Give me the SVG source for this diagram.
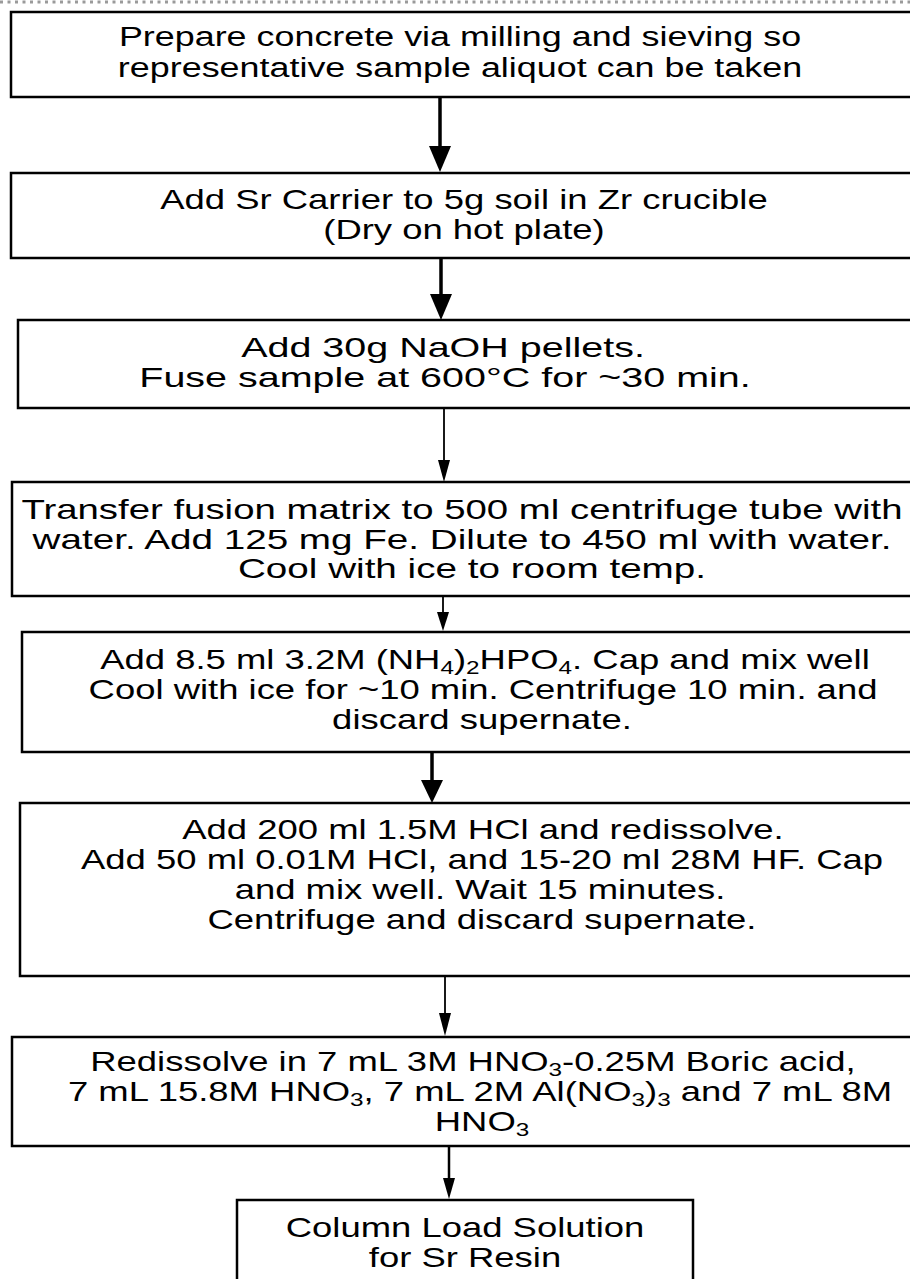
<svg xmlns="http://www.w3.org/2000/svg" width="910" height="1279" viewBox="0 0 910 1279">
<style>
.box{fill:#fff;stroke:#000;stroke-width:2.5}
.t{font-family:"Liberation Sans",Arial,sans-serif;font-size:27px;fill:#000;text-anchor:middle}
.b{font-size:28px}
.s{font-size:18px}
.thick{stroke:#000;stroke-width:3.5;fill:none}
.thin{stroke:#000;stroke-width:1.8;fill:none}
.mid{stroke:#000;stroke-width:2.5;fill:none}
.head{fill:#000}
</style>
<rect width="910" height="1279" fill="#fff"/>
<line x1="0" y1="2" x2="910" y2="2" stroke="#9a9a9a" stroke-width="3" stroke-dasharray="3 4.5"/>

<g id="connectors">
<line class="thick" x1="440" y1="97" x2="440" y2="148"/>
<polygon class="head" points="429,146 451,146 440,172"/>
<line class="thick" x1="441" y1="258" x2="441" y2="296"/>
<polygon class="head" points="430,294 452,294 441,320"/>
<line class="thin" x1="444" y1="408" x2="444" y2="462"/>
<polygon class="head" points="438,460 450,460 444,482"/>
<line class="thin" x1="443" y1="596" x2="443" y2="614"/>
<polygon class="head" points="437,612 449,612 443,631"/>
<line class="thick" x1="432" y1="752" x2="432" y2="782"/>
<polygon class="head" points="421,780 443,780 432,803"/>
<line class="thin" x1="445" y1="976" x2="445" y2="1015"/>
<polygon class="head" points="439,1013 451,1013 445,1036"/>
<line class="mid" x1="449" y1="1146" x2="449" y2="1180"/>
<polygon class="head" points="443,1178 455,1178 449,1199"/>
</g>

<g id="n1">
<rect class="box" x="11" y="12" width="920" height="85"/>
<text class="t" transform="translate(460,0) scale(1.33,1)" y="46">Prepare concrete via milling and sieving so</text>
<text class="t" transform="translate(460,0) scale(1.33,1)" y="77">representative sample aliquot can be taken</text>
</g>

<g id="n2">
<rect class="box" x="11" y="173" width="920" height="85"/>
<text class="t" transform="translate(464,0) scale(1.35,1)" y="209">Add Sr Carrier to 5g soil in Zr crucible</text>
<text class="t" transform="translate(464,0) scale(1.35,1)" y="239">(Dry on hot plate)</text>
</g>

<g id="n3">
<rect class="box" x="18" y="320" width="920" height="88"/>
<text class="t b" transform="translate(443,0) scale(1.41,1)" y="357">Add 30g NaOH pellets.</text>
<text class="t b" transform="translate(445,0) scale(1.41,1)" y="387">Fuse sample at 600°C for ~30 min.</text>
</g>

<g id="n4">
<rect class="box" x="12" y="482" width="920" height="114"/>
<text class="t b" transform="translate(462,0) scale(1.37,1)" y="519">Transfer fusion matrix to 500 ml centrifuge tube with</text>
<text class="t b" transform="translate(462,0) scale(1.38,1)" y="549">water. Add 125 mg Fe. Dilute to 450 ml with water.</text>
<text class="t b" transform="translate(472,0) scale(1.38,1)" y="578">Cool with ice to room temp.</text>
</g>

<g id="n5">
<rect class="box" x="22" y="632" width="920" height="120"/>
<text class="t" transform="translate(485,0) scale(1.35,1)" y="669">Add 8.5 ml 3.2M (NH<tspan class="s" dy="5">4</tspan><tspan dy="-5">)</tspan><tspan class="s" dy="5">2</tspan><tspan dy="-5">HPO</tspan><tspan class="s" dy="5">4</tspan><tspan dy="-5">. Cap and mix well</tspan></text>
<text class="t" transform="translate(483,0) scale(1.35,1)" y="699">Cool with ice for ~10 min. Centrifuge 10 min. and</text>
<text class="t" transform="translate(482,0) scale(1.35,1)" y="729">discard supernate.</text>
</g>

<g id="n6">
<rect class="box" x="20" y="803" width="920" height="173"/>
<text class="t" transform="translate(483,0) scale(1.35,1)" y="839">Add 200 ml 1.5M HCl and redissolve.</text>
<text class="t" transform="translate(482,0) scale(1.35,1)" y="869">Add 50 ml 0.01M HCl, and 15-20 ml 28M HF. Cap</text>
<text class="t" transform="translate(480,0) scale(1.35,1)" y="899">and mix well. Wait 15 minutes.</text>
<text class="t" transform="translate(482,0) scale(1.35,1)" y="929">Centrifuge and discard supernate.</text>
</g>

<g id="n7">
<rect class="box" x="12" y="1037" width="920" height="109"/>
<text class="t" transform="translate(473,0) scale(1.35,1)" y="1071">Redissolve in 7 mL 3M HNO<tspan class="s" dy="5">3</tspan><tspan dy="-5">-0.25M Boric acid,</tspan></text>
<text class="t" transform="translate(480,0) scale(1.35,1)" y="1101">7 mL 15.8M HNO<tspan class="s" dy="5">3</tspan><tspan dy="-5">, 7 mL 2M Al(NO</tspan><tspan class="s" dy="5">3</tspan><tspan dy="-5">)</tspan><tspan class="s" dy="5">3</tspan><tspan dy="-5"> and 7 mL 8M</tspan></text>
<text class="t" transform="translate(482,0) scale(1.35,1)" y="1131">HNO<tspan class="s" dy="5">3</tspan></text>
</g>

<g id="n8">
<rect class="box" x="237" y="1200" width="456" height="100" stroke-width="2.2"/>
<text class="t" transform="translate(465,0) scale(1.35,1)" y="1237">Column Load Solution</text>
<text class="t" transform="translate(465,0) scale(1.35,1)" y="1267">for Sr Resin</text>
</g>
</svg>
